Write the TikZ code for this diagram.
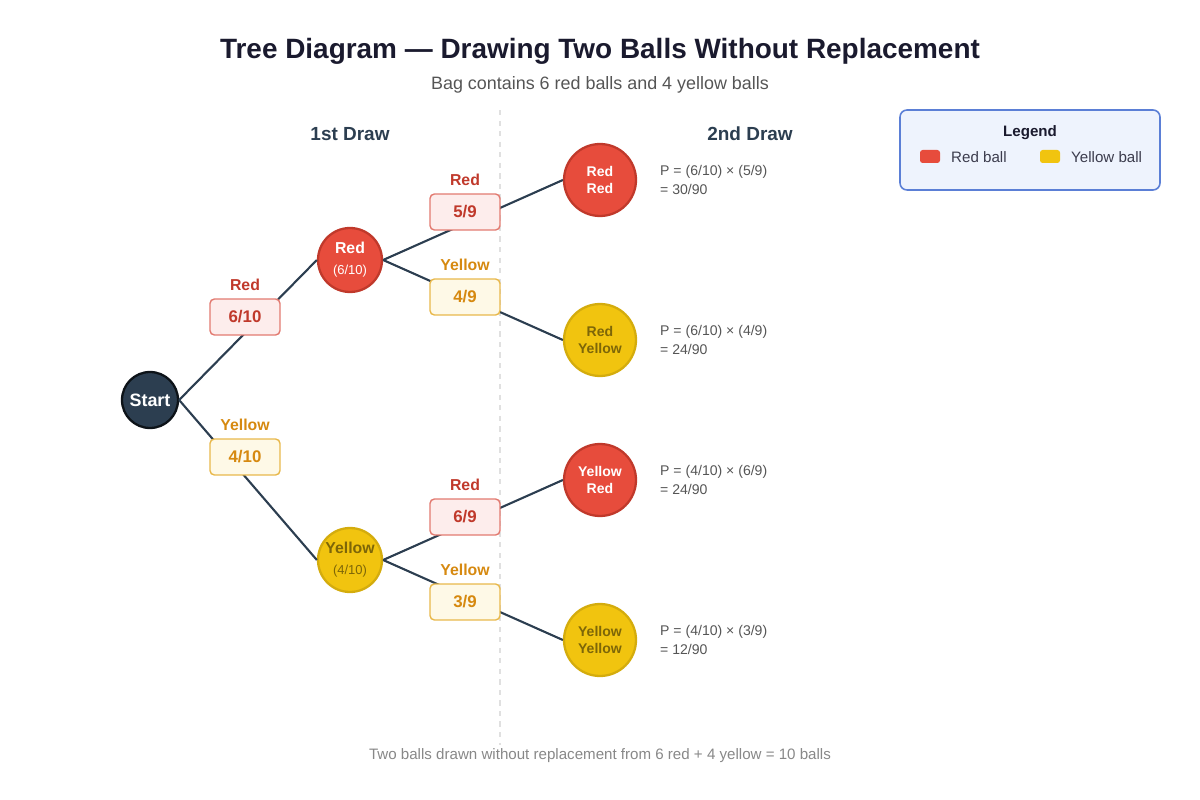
\documentclass[tikz,border=0pt]{standalone}
\usepackage{fontspec}
\setmainfont{Liberation Sans}
\usepackage{xcolor}
\usetikzlibrary{positioning}

\definecolor{titlecol}{HTML}{1A1A2E}
\definecolor{headcol}{HTML}{2C3E50}
\definecolor{ballred}{HTML}{E74C3C}
\definecolor{rededge}{HTML}{C0392B}
\definecolor{redbox}{HTML}{FDEDEC}
\definecolor{redboxedge}{HTML}{E27A70}
\definecolor{ballyel}{HTML}{F1C40F}
\definecolor{yeledge}{HTML}{D4AC0D}
\definecolor{yeltext}{HTML}{7D6608}
\definecolor{yellab}{HTML}{D68910}
\definecolor{yelbox}{HTML}{FEF9E7}
\definecolor{yelboxedge}{HTML}{E8B84B}
\definecolor{legfill}{HTML}{EEF3FD}
\definecolor{legedge}{HTML}{5B7FD6}
\definecolor{ptext}{HTML}{555555}
\definecolor{foot}{HTML}{888888}

\tikzset{
  ball/.style={circle,draw,line width=1.3pt,inner sep=0pt,align=center},
  redball/.style={ball,fill=ballred,draw=rededge,text=white},
  yelball/.style={ball,fill=ballyel,draw=yeledge,text=yeltext},
  probbox/.style={rectangle,rounded corners=2.5pt,line width=0.8pt,
    minimum width=1.4cm,minimum height=0.72cm,font=\fontsize{9.6}{11}\selectfont\bfseries},
  redprob/.style={probbox,fill=redbox,draw=redboxedge,text=rededge},
  yelprob/.style={probbox,fill=yelbox,draw=yelboxedge,text=yellab},
  brlab/.style={font=\fontsize{9}{10}\selectfont\bfseries},
  ptxt/.style={anchor=west,align=left,text=ptext,font=\fontsize{8}{11.3}\selectfont},
  branch/.style={draw=headcol,line width=1.2pt}
}

\begin{document}
\begin{tikzpicture}[x=0.02cm,y=-0.02cm]
\useasboundingbox (0,0) rectangle (1200,800);

% titles
\node (title) at (600,51) {\fontsize{15.9}{18}\selectfont\bfseries\color{titlecol}Tree Diagram — Drawing Two Balls Without Replacement};
\node (sub) at (600,85) {\fontsize{10.2}{12}\selectfont\color{ptext}Bag contains 6 red balls and 4 yellow balls};
\node (h1) at (350,134) {\fontsize{10.8}{13}\selectfont\bfseries\color{headcol}1st Draw};
\node (h2) at (750,134) {\fontsize{10.8}{13}\selectfont\bfseries\color{headcol}2nd Draw};

\draw[draw=black!12,dashed,line width=0.7pt] (500,110)--(500,745);

% balls
\node[ball,fill=headcol,draw=black!70!headcol,text=white,minimum size=1.12cm,
  font=\fontsize{10.2}{12}\selectfont\bfseries] (start) at (150,400) {Start};
\node[redball,minimum size=1.28cm] (r1) at (350,260)
  {{\fontsize{9}{11}\selectfont\bfseries Red}\\[0pt]{\fontsize{7.4}{9}\selectfont(6/10)}};
\node[yelball,minimum size=1.28cm] (y1) at (350,560)
  {{\fontsize{9}{11}\selectfont\bfseries Yellow}\\[0pt]{\fontsize{7.4}{9}\selectfont(4/10)}};

\node[redball,minimum size=1.44cm,font=\fontsize{8}{10}\selectfont\bfseries] (rr) at (600,180) {Red\\Red};
\node[yelball,minimum size=1.44cm,font=\fontsize{8}{10}\selectfont\bfseries] (ry) at (600,340) {Red\\Yellow};
\node[redball,minimum size=1.44cm,font=\fontsize{8}{10}\selectfont\bfseries] (yr) at (600,480) {Yellow\\Red};
\node[yelball,minimum size=1.44cm,font=\fontsize{8}{10}\selectfont\bfseries] (yy) at (600,640) {Yellow\\Yellow};

% branches
\draw[branch] (start.east)--(r1.west);
\draw[branch] (start.east)--(y1.west);
\draw[branch] (r1.east)--(rr.west);
\draw[branch] (r1.east)--(ry.west);
\draw[branch] (y1.east)--(yr.west);
\draw[branch] (y1.east)--(yy.west);

% probabilities on branches
\node[redprob] (p1) at (245,317) {6/10};
\node[brlab,text=rededge,above=1pt of p1] (l1) {Red};
\node[yelprob] (p2) at (245,457) {4/10};
\node[brlab,text=yellab,above=1pt of p2] (l2) {Yellow};
\node[redprob] (p3) at (465,212) {5/9};
\node[brlab,text=rededge,above=1pt of p3] (l3) {Red};
\node[yelprob] (p4) at (465,297) {4/9};
\node[brlab,text=yellab,above=1pt of p4] (l4) {Yellow};
\node[redprob] (p5) at (465,517) {6/9};
\node[brlab,text=rededge,above=1pt of p5] (l5) {Red};
\node[yelprob] (p6) at (465,602) {3/9};
\node[brlab,text=yellab,above=1pt of p6] (l6) {Yellow};

% outcomes
\node[ptxt] (o1) at (654,180) {P = (6/10) × (5/9)\\= 30/90};
\node[ptxt] (o2) at (654,340) {P = (6/10) × (4/9)\\= 24/90};
\node[ptxt] (o3) at (654,480) {P = (4/10) × (6/9)\\= 24/90};
\node[ptxt] (o4) at (654,640) {P = (4/10) × (3/9)\\= 12/90};

% legend
\draw[fill=legfill,draw=legedge,line width=0.9pt,rounded corners=4pt] (900,110) rectangle (1160,190);
\node (leg) at (1030,133) {\fontsize{8.6}{10}\selectfont\bfseries\color{titlecol}Legend};
\fill[ballred,rounded corners=1.5pt] (920,150) rectangle (940,163);
\node[anchor=west] (legr) at (945,157) {\fontsize{8.6}{10}\selectfont\color{titlecol!85}Red ball};
\fill[ballyel,rounded corners=1.5pt] (1040,150) rectangle (1060,163);
\node[anchor=west] (legy) at (1065,157) {\fontsize{8.6}{10}\selectfont\color{titlecol!85}Yellow ball};

\node (note) at (600,756) {\fontsize{8.6}{10}\selectfont\color{foot}Two balls drawn without replacement from 6 red + 4 yellow = 10 balls};

\end{tikzpicture}
\end{document}
